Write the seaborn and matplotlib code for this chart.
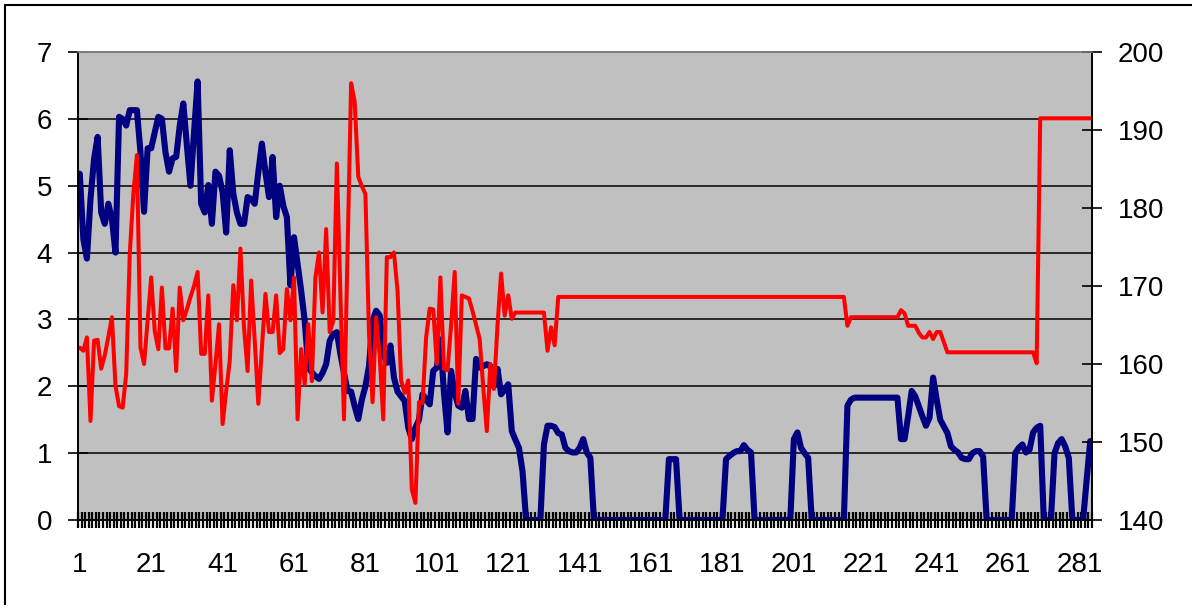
import numpy as np
import pandas as pd
import matplotlib
matplotlib.use("Agg")
import matplotlib.pyplot as plt
import seaborn as sns
from matplotlib.patches import Rectangle
from matplotlib.ticker import FixedLocator

sns.set_style("white")
plt.rcParams['font.family'] = ['Liberation Sans', 'DejaVu Sans']

# left axis series (navy)
navy = [
    5.18, 4.20, 3.91, 4.80, 5.40, 5.73, 4.60, 4.43, 4.73, 4.50,
    4.00, 6.03, 6.00, 5.90, 6.13, 6.13, 6.13, 5.50, 4.61, 5.56,
    5.56, 5.80, 6.03, 6.00, 5.50, 5.21, 5.41, 5.43, 5.90, 6.23,
    5.60, 5.00, 5.80, 6.56, 4.73, 4.60, 5.01, 4.43, 5.21, 5.15,
    4.90, 4.30, 5.53, 4.88, 4.60, 4.43, 4.43, 4.83, 4.80, 4.73,
    5.20, 5.63, 5.20, 4.83, 5.43, 4.53, 5.00, 4.70, 4.53, 3.51,
    4.23, 3.83, 3.43, 2.98, 2.28, 2.21, 2.15, 2.11, 2.20, 2.33,
    2.68, 2.78, 2.81, 2.48, 2.20, 1.93, 1.92, 1.70, 1.51, 1.80,
    2.00, 2.30, 2.98, 3.13, 3.06, 2.48, 2.35, 2.61, 2.13, 1.92,
    1.85, 1.78, 1.38, 1.21, 1.38, 1.50, 1.88, 1.80, 1.73, 2.23,
    2.28, 2.70, 1.90, 1.31, 2.23, 1.90, 1.71, 1.68, 1.93, 1.51,
    1.51, 2.41, 2.28, 2.30, 2.33, 2.30, 2.00, 2.26, 1.88, 1.95,
    2.03, 1.33, 1.20, 1.08, 0.73, 0.00, 0.00, 0.00, 0.00, 0.00,
    1.13, 1.41, 1.41, 1.39, 1.30, 1.28, 1.08, 1.03, 1.01, 1.01,
    1.08, 1.21, 1.01, 0.93, 0.00, 0.00, 0.00, 0.00, 0.00, 0.00,
    0.00, 0.00, 0.00, 0.00, 0.00, 0.00, 0.00, 0.00, 0.00, 0.00, 0.00,
    0.00, 0.00, 0.00, 0.00, 0.91, 0.91, 0.91, 0.00, 0.00, 0.00,
    0.00, 0.00, 0.00, 0.00, 0.00, 0.00, 0.00, 0.00, 0.00, 0.00,
    0.91, 0.96, 1.00, 1.03, 1.03, 1.12, 1.05, 1.01, 0.00, 0.00,
    0.00, 0.00, 0.00, 0.00, 0.00, 0.00, 0.00, 0.00, 0.00, 1.21,
    1.31, 1.08, 1.00, 0.93, 0.00, 0.00, 0.00, 0.00, 0.00, 0.00,
    0.00, 0.00, 0.00, 0.00, 1.71, 1.80, 1.83, 1.83, 1.83, 1.83,
    1.83, 1.83, 1.83, 1.83, 1.83, 1.83, 1.83, 1.83, 1.83, 1.21,
    1.21, 1.55, 1.93, 1.85, 1.70, 1.55, 1.41, 1.53, 2.13, 1.80,
    1.50, 1.40, 1.30, 1.10, 1.05, 1.01, 0.93, 0.91, 0.91, 1.00,
    1.03, 1.03, 0.95, 0.00, 0.00, 0.00, 0.00, 0.00, 0.00, 0.00, 0.00,
    1.00, 1.08, 1.13, 1.01, 1.05, 1.31, 1.38, 1.41, 0.00, 0.00,
    0.00, 1.00, 1.15, 1.21, 1.10, 0.93, 0.00, 0.00, 0.00, 0.00, 0.60, 1.18,
]

# right axis series (red)
red = [
    162.1, 161.7, 163.4, 152.7, 163.0, 163.1, 159.4, 161.1, 163.5, 166.0,
    157.2, 154.6, 154.4, 158.7, 174.1, 181.8, 186.8, 162.1, 160.0, 165.5,
    171.1, 164.2, 161.9, 169.8, 162.0, 162.0, 167.1, 159.1, 169.8, 165.6,
    167.0, 168.6, 170.0, 171.8, 161.3, 161.3, 168.8, 155.3, 160.0, 165.1,
    152.3, 156.5, 160.4, 170.1, 165.6, 174.8, 164.7, 159.1, 170.7, 163.0,
    154.9, 162.0, 169.0, 164.1, 164.1, 168.8, 161.4, 161.9, 169.6, 165.6,
    171.1, 152.9, 161.9, 157.4, 165.1, 157.8, 171.1, 174.3, 166.6, 177.3,
    164.1, 165.5, 185.7, 169.0, 152.9, 174.5, 196.0, 193.6, 184.0, 182.8,
    181.8, 163.9, 155.1, 166.0, 161.0, 152.9, 173.7, 173.7, 174.3, 169.4,
    157.9, 156.3, 157.9, 143.9, 142.2, 155.1, 155.0, 163.4, 167.1, 167.0,
    160.0, 171.1, 159.4, 159.2, 165.0, 171.8, 154.9, 168.8, 168.6, 168.4,
    166.8, 165.0, 163.2, 157.0, 151.4, 160.0, 156.8, 165.0, 171.6, 166.2,
    168.8, 165.8, 166.6, 166.6, 166.6, 166.6, 166.6, 166.6, 166.6, 166.6,
    166.6, 161.7, 164.7, 162.4, 168.6, 168.6, 168.6, 168.6, 168.6, 168.6,
    168.6, 168.6, 168.6, 168.6, 168.6, 168.6, 168.6, 168.6, 168.6, 168.6,
    168.6, 168.6, 168.6, 168.6, 168.6, 168.6, 168.6, 168.6, 168.6, 168.6, 168.6,
    168.6, 168.6, 168.6, 168.6, 168.6, 168.6, 168.6, 168.6, 168.6, 168.6,
    168.6, 168.6, 168.6, 168.6, 168.6, 168.6, 168.6, 168.6, 168.6, 168.6,
    168.6, 168.6, 168.6, 168.6, 168.6, 168.6, 168.6, 168.6, 168.6, 168.6,
    168.6, 168.6, 168.6, 168.6, 168.6, 168.6, 168.6, 168.6, 168.6, 168.6,
    168.6, 168.6, 168.6, 168.6, 168.6, 168.6, 168.6, 168.6, 168.6, 168.6,
    168.6, 168.6, 168.6, 168.6, 164.9, 166.0, 166.0, 166.0, 166.0, 166.0,
    166.0, 166.0, 166.0, 166.0, 166.0, 166.0, 166.0, 166.0, 166.0, 166.9,
    166.5, 164.9, 164.9, 164.9, 164.0, 163.4, 163.4, 164.1, 163.2, 164.1,
    164.1, 162.8, 161.5, 161.5, 161.5, 161.5, 161.5, 161.5, 161.5, 161.5,
    161.5, 161.5, 161.5, 161.5, 161.5, 161.5, 161.5, 161.5, 161.5, 161.5, 161.5,
    161.5, 161.5, 161.5, 161.5, 161.5, 161.5, 160.1, 191.5, 191.5, 191.5,
    191.5, 191.5, 191.5, 191.5, 191.5, 191.5, 191.5, 191.5, 191.5, 191.5, 191.5, 191.5,
]

x_labels = [1, 21, 41, 61, 81, 101, 121, 141, 161, 181, 201, 221, 241, 261, 281]
left_ticks = [0, 1, 2, 3, 4, 5, 6, 7]
right_ticks = [140, 150, 160, 170, 180, 190, 200]

cats = np.arange(1, len(navy) + 1)
df = pd.DataFrame({'cat': cats, 'navy': navy, 'red': red})

W, H = 1192, 605
fig = plt.figure(figsize=(W / 100, H / 100), dpi=100)
ax = fig.add_axes([78 / W, 1 - 520 / H, (1092 - 78) / W, (520 - 52) / H])
ax.set_facecolor('#c0c0c0')
ax2 = ax.twinx()

sns.lineplot(data=df, x='cat', y='navy', ax=ax, color='#000080', linewidth=4.4,
             errorbar=None)
sns.lineplot(data=df, x='cat', y='red', ax=ax2, color='#ff0000', linewidth=2.9,
             errorbar=None)

ax.set_xlim(0.5, len(navy) + 0.5)
ax.set_ylim(0, 7)
ax2.set_ylim(140, 200)
ax.set_xlabel('')
ax.set_ylabel('')
ax2.set_ylabel('')

ax.set_xticks(x_labels)
ax.set_xticklabels([str(v) for v in x_labels])
ax.xaxis.set_minor_locator(FixedLocator(np.arange(0.5, len(navy) + 1, 1)))
ax.set_yticks(left_ticks)
ax2.set_yticks(right_ticks)

ax.tick_params(axis='x', which='major', bottom=True, length=0, pad=23,
               labelsize=20, labelcolor='black')
ax.tick_params(axis='x', which='minor', bottom=True, direction='inout',
               length=11.5, width=1.6, color='black')
ax.tick_params(axis='y', left=True, direction='inout', length=14.4, width=1.2,
               pad=11.5, labelsize=20, color='black', labelcolor='black')
ax2.tick_params(axis='y', right=True, direction='inout', length=14.4, width=1.2,
                pad=11.5, labelsize=20, color='black', labelcolor='black')

ax.set_axisbelow(True)
ax.yaxis.grid(True, color='black', linewidth=1.1)
ax.xaxis.grid(False)
ax2.grid(False)

for a in (ax, ax2):
    for side in ('left', 'right', 'bottom'):
        a.spines[side].set_color('black')
        a.spines[side].set_linewidth(1.2)
    a.spines['top'].set_color('#808080')
    a.spines['top'].set_linewidth(1.1)

# chart area border (only top and left fall inside the image)
fig.patches.append(Rectangle((5 / W, -0.05), 1.2, 1.05 - 5 / H,
                             transform=fig.transFigure, fill=False,
                             edgecolor='black', linewidth=1.5))

fig.savefig('out.png', dpi=100)
